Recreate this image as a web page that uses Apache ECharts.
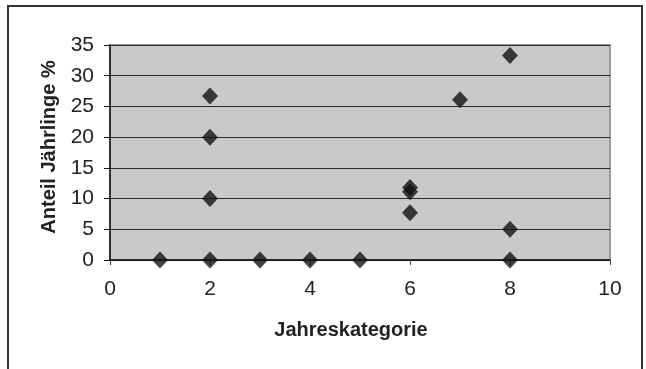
<!DOCTYPE html>
<html>
<head>
<meta charset="utf-8">
<script src="https://cdn.jsdelivr.net/npm/echarts@6/dist/echarts.min.js"></script>
<style>
  html, body { margin: 0; padding: 0; background: #fff; }
  #frame { position: absolute; left: 7px; top: 5px; width: 636px; height: 380px;
           border: 2px solid #333; border-bottom: none; box-sizing: border-box; }
  #chart { position: absolute; left: 0; top: 0; width: 646px; height: 369px; }
</style>
</head>
<body>
<div id="frame"></div>
<div id="chart"></div>
<script>
// Year category of each observation and the share of yearlings (%)
const jahreskategorie = [1, 2, 2, 2, 2, 3, 4, 5, 6, 6, 6, 7, 8, 8, 8];
const anteilJaehrlinge = [0, 0, 10, 20, 26.7, 0, 0, 0, 7.7, 11.1, 11.8, 26.1, 0, 5, 33.3];

const xTitle = 'Jahreskategorie';
const yTitle = 'Anteil Jährlinge %';

const points = jahreskategorie.map((x, i) => [x, anteilJaehrlinge[i]]);

const chart = echarts.init(document.getElementById('chart'), null, { renderer: 'canvas' });
const font = '"Liberation Sans", Arial, sans-serif';

chart.setOption({
  animation: false,
  grid: {
    left: 110, right: 36, top: 45, bottom: 109,
    show: true, backgroundColor: '#c9c9c9', borderColor: '#9a9a9a', borderWidth: 2
  },
  xAxis: {
    type: 'value', min: 0, max: 10, interval: 2,
    name: xTitle, nameLocation: 'middle', nameGap: 60,
    nameTextStyle: { fontFamily: font, fontSize: 20, fontWeight: 'bold', color: '#222', padding: [0, 18, 0, 0] },
    axisLine: { show: true, onZero: false, lineStyle: { color: '#111', width: 1.5 } },
    axisTick: { show: true, length: 5, lineStyle: { color: '#444' } },
    axisLabel: { fontFamily: font, fontSize: 21, color: '#222', margin: 19 },
    splitLine: { show: false }
  },
  yAxis: {
    type: 'value', min: 0, max: 35, interval: 5,
    name: yTitle, nameLocation: 'middle', nameGap: 50, nameRotate: 90,
    nameTextStyle: { fontFamily: font, fontSize: 20, fontWeight: 'bold', color: '#222', padding: [0, 0, 0, 11] },
    axisLine: { show: true, onZero: false, lineStyle: { color: '#111', width: 1.5 } },
    axisTick: { show: true, length: 6, lineStyle: { color: '#111' } },
    axisLabel: { fontFamily: font, fontSize: 21, color: '#222', margin: 16 },
    splitLine: { show: true, lineStyle: { color: '#2a2a2a', width: 1 } }
  },
  series: [{
    type: 'scatter',
    data: points,
    symbol: 'diamond',
    symbolSize: [16, 17],
    itemStyle: { color: '#111' }
  }]
});
</script>
</body>
</html>
